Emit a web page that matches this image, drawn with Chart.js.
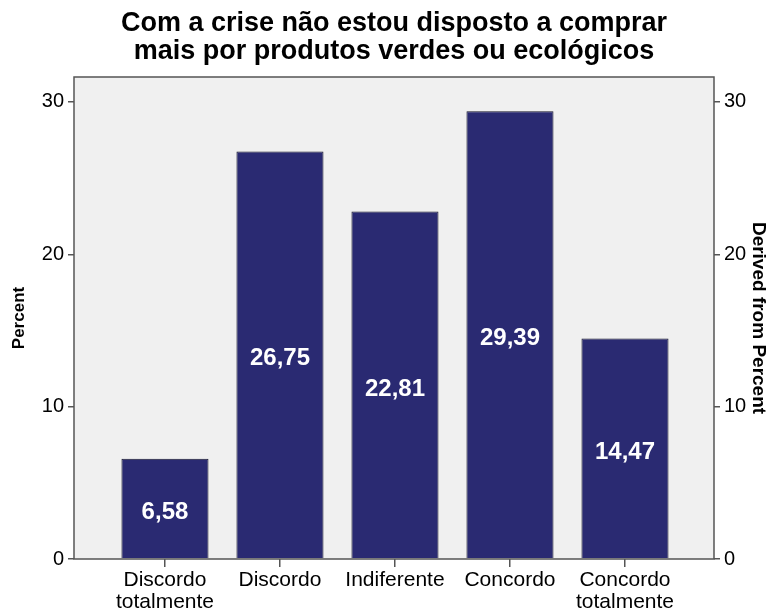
<!DOCTYPE html>
<html>
<head>
<meta charset="utf-8">
<title>Com a crise não estou disposto a comprar mais por produtos verdes ou ecológicos</title>
<script src="https://cdn.jsdelivr.net/npm/chart.js@4/dist/chart.umd.min.js"></script>
<style>
    html, body { margin: 0; padding: 0; background: #ffffff; }
    #wrap { width: 768px; height: 611px; }
</style>
</head>
<body>
<div id="wrap"><canvas id="grafico"></canvas></div>
<script>
// respostas da escala e percentagens
const categorias = [
    ['Discordo', 'totalmente'],
    'Discordo',
    'Indiferente',
    'Concordo',
    ['Concordo', 'totalmente']
];
const percentagens = [6.58, 26.75, 22.81, 29.39, 14.47];
const ticksY = [0, 10, 20, 30];
const posicoes = [1, 2, 3, 4, 5];

const titulo = ['Com a crise não estou disposto a comprar', 'mais por produtos verdes ou ecológicos'];

const FONTE = "'Liberation Sans', Arial, sans-serif";

// fundo cinzento e moldura da área do gráfico
const fundoArea = {
    id: 'fundoArea',
    beforeDraw(chart) {
        const { ctx, chartArea: a } = chart;
        ctx.save();
        ctx.fillStyle = '#f0f0f0';
        ctx.fillRect(a.left, a.top, a.right - a.left, a.bottom - a.top);
        ctx.restore();
    },
    afterDatasetsDraw(chart) {
        const { ctx, chartArea: a } = chart;
        ctx.save();
        ctx.strokeStyle = '#555555';
        ctx.lineWidth = 1.5;
        ctx.strokeRect(a.left, a.top, a.right - a.left, a.bottom - a.top);
        ctx.restore();
    }
};

// valores escritos dentro das barras
const rotulosBarras = {
    id: 'rotulosBarras',
    afterDatasetsDraw(chart) {
        const { ctx } = chart;
        const meta = chart.getDatasetMeta(0);
        ctx.save();
        ctx.fillStyle = '#ffffff';
        ctx.font = 'bold 24px ' + FONTE;
        ctx.textAlign = 'center';
        ctx.textBaseline = 'middle';
        meta.data.forEach((barra, i) => {
            const y = (barra.y + barra.base) / 2 + 4;
            ctx.fillText(percentagens[i].toFixed(2).replace('.', ','), barra.x, y);
        });
        ctx.restore();
    }
};

const eixoY = (posicao, nomeTitulo, tamTitulo, largura, paddingTitulo) => ({
    type: 'linear',
    position: posicao,
    min: 0,
    max: 31.64,
    afterBuildTicks(scale) {
        scale.ticks = ticksY.map(v => ({ value: v }));
    },
    afterFit(scale) {
        scale.width = largura;
    },
    grid: {
        drawOnChartArea: false,
        drawTicks: true,
        tickLength: 6,
        color: '#555555',
        lineWidth: 1.5
    },
    border: { display: false },
    ticks: {
        color: '#000000',
        padding: 4,
        font: { family: FONTE, size: 20 }
    },
    title: {
        display: true,
        text: nomeTitulo,
        color: '#000000',
        font: { family: FONTE, size: tamTitulo, weight: 'bold', lineHeight: 1 },
        padding: paddingTitulo
    }
});

const ctx = document.getElementById('grafico').getContext('2d');
new Chart(ctx, {
    type: 'bar',
    data: {
        datasets: [{
            label: 'Percent',
            data: posicoes.map((x, i) => ({ x: x, y: percentagens[i] })),
            backgroundColor: '#2a2a72',
            borderColor: '#15152a',
            borderWidth: 1,
            barPercentage: 0.757,
            categoryPercentage: 1,
            yAxisID: 'y'
        }]
    },
    options: {
        responsive: true,
        maintainAspectRatio: false,
        animation: false,
        layout: { padding: 0 },
        plugins: {
            legend: { display: false },
            tooltip: { enabled: false },
            title: {
                display: true,
                text: titulo,
                color: '#000000',
                fullSize: false,
                font: { family: FONTE, size: 27, weight: 'bold', lineHeight: 1.037 },
                padding: { top: 10, bottom: 11 }
            }
        },
        scales: {
            x: {
                type: 'linear',
                min: 0.209,
                max: 5.774,
                offset: false,
                afterBuildTicks(scale) {
                    scale.ticks = posicoes.map(v => ({ value: v }));
                },
                afterFit(scale) {
                    scale.height = 52;
                },
                grid: {
                    offset: false,
                    drawOnChartArea: false,
                    drawTicks: true,
                    tickLength: 8,
                    color: '#555555',
                    lineWidth: 1.5
                },
                border: { display: false },
                ticks: {
                    color: '#000000',
                    padding: 2,
                    maxRotation: 0,
                    autoSkip: false,
                    font: { family: FONTE, size: 21, lineHeight: 1.05 },
                    callback: (valor) => categorias[valor - 1]
                }
            },
            y: eixoY('left', 'Percent', 17, 74, { top: 11, bottom: 0 }),
            y2: eixoY('right', 'Derived from Percent', 19, 54, { top: 0, bottom: 0 })
        }
    },
    plugins: [fundoArea, rotulosBarras]
});
</script>
</body>
</html>
